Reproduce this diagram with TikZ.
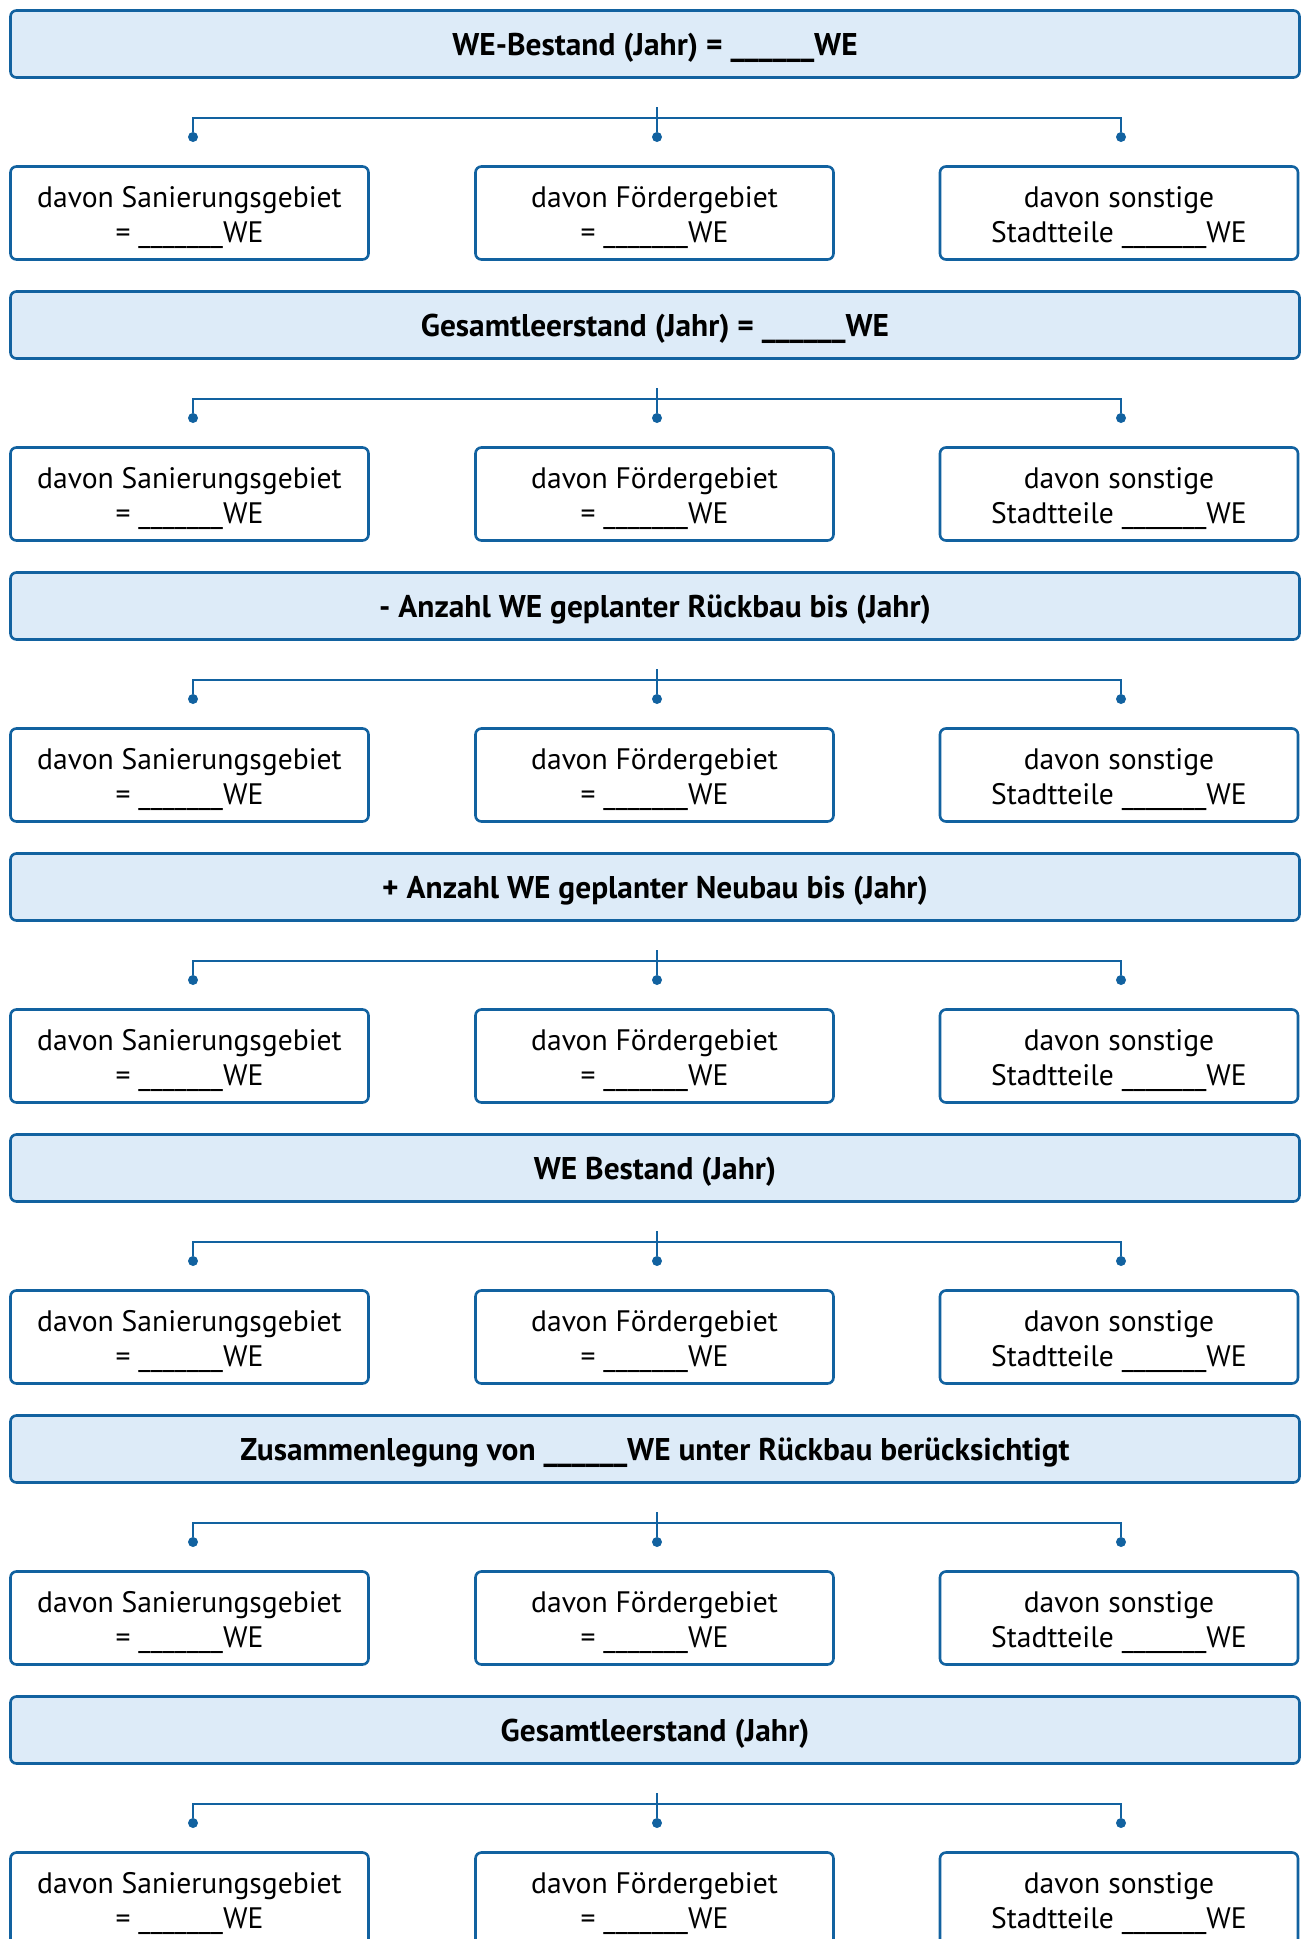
\documentclass[tikz,border=0pt]{standalone}
\usepackage{fontspec}
\setmainfont{PT Sans}
\usepackage{tikz}
\usepackage{xcolor}
\definecolor{weblue}{RGB}{18,98,160}
\definecolor{welight}{RGB}{221,235,248}
\newcommand{\zeilehoch}{\rule{0pt}{15pt}}

\begin{document}
\begin{tikzpicture}[x=0.5pt,y=0.5pt,yscale=-1,xscale=1,
  headbox/.style={draw=weblue,line width=1.3pt,fill=welight,rounded corners=3pt,minimum width=644.5pt,minimum height=33.5pt,inner sep=0pt,text height=11pt,text depth=0pt,font=\fontsize{15.7}{17.5}\selectfont\bfseries},
  partbox/.style={draw=weblue,line width=1.3pt,fill=white,rounded corners=3pt,minimum width=179pt,minimum height=46.5pt,inner sep=0pt,align=center,font=\fontsize{14.8}{17.5}\selectfont},
  conn/.style={draw=weblue,line width=1.1pt},
  knob/.style={circle,fill=weblue,inner sep=0pt,minimum size=5pt}]
\path[use as bounding box] (0,0) rectangle (1304,1939);
\clip (0,0) rectangle (1304,1939);

%Shape: Header 1
\node [headbox] (head1) at (655,44) {WE-Bestand (Jahr) = \_\_\_\_\_\_WE};
% Connector 1
\coordinate (tick1) at (657,107);
\coordinate (bar1) at (657,118);
\node [knob] (dotl1) at (193,137) {};
\node [knob] (dotm1) at (657,137) {};
\node [knob] (dotr1) at (1121,137) {};
\draw [conn] (dotl1) |- (bar1) -| (dotr1);
\draw [conn] (tick1) -- (dotm1);
% Text Node
\node [partbox] (san1) at (189.5,213) {\zeilehoch davon Sanierungsgebiet\\= \_\_\_\_\_\_\_WE};
\node [partbox] (foe1) at (654.5,213) {\zeilehoch davon Fördergebiet\\= \_\_\_\_\_\_\_WE};
\node [partbox] (son1) at (1119,213) {\zeilehoch davon sonstige\\Stadtteile \_\_\_\_\_\_\_WE};

%Shape: Header 2
\node [headbox] (head2) at (655,325) {Gesamtleerstand (Jahr) = \_\_\_\_\_\_WE};
% Connector 2
\coordinate (tick2) at (657,388);
\coordinate (bar2) at (657,399);
\node [knob] (dotl2) at (193,418) {};
\node [knob] (dotm2) at (657,418) {};
\node [knob] (dotr2) at (1121,418) {};
\draw [conn] (dotl2) |- (bar2) -| (dotr2);
\draw [conn] (tick2) -- (dotm2);
% Text Node
\node [partbox] (san2) at (189.5,494) {\zeilehoch davon Sanierungsgebiet\\= \_\_\_\_\_\_\_WE};
\node [partbox] (foe2) at (654.5,494) {\zeilehoch davon Fördergebiet\\= \_\_\_\_\_\_\_WE};
\node [partbox] (son2) at (1119,494) {\zeilehoch davon sonstige\\Stadtteile \_\_\_\_\_\_\_WE};

%Shape: Header 3
\node [headbox] (head3) at (655,606) {- Anzahl WE geplanter Rückbau bis (Jahr)};
% Connector 3
\coordinate (tick3) at (657,669);
\coordinate (bar3) at (657,680);
\node [knob] (dotl3) at (193,699) {};
\node [knob] (dotm3) at (657,699) {};
\node [knob] (dotr3) at (1121,699) {};
\draw [conn] (dotl3) |- (bar3) -| (dotr3);
\draw [conn] (tick3) -- (dotm3);
% Text Node
\node [partbox] (san3) at (189.5,775) {\zeilehoch davon Sanierungsgebiet\\= \_\_\_\_\_\_\_WE};
\node [partbox] (foe3) at (654.5,775) {\zeilehoch davon Fördergebiet\\= \_\_\_\_\_\_\_WE};
\node [partbox] (son3) at (1119,775) {\zeilehoch davon sonstige\\Stadtteile \_\_\_\_\_\_\_WE};

%Shape: Header 4
\node [headbox] (head4) at (655,887) {+ Anzahl WE geplanter Neubau bis (Jahr)};
% Connector 4
\coordinate (tick4) at (657,950);
\coordinate (bar4) at (657,961);
\node [knob] (dotl4) at (193,980) {};
\node [knob] (dotm4) at (657,980) {};
\node [knob] (dotr4) at (1121,980) {};
\draw [conn] (dotl4) |- (bar4) -| (dotr4);
\draw [conn] (tick4) -- (dotm4);
% Text Node
\node [partbox] (san4) at (189.5,1056) {\zeilehoch davon Sanierungsgebiet\\= \_\_\_\_\_\_\_WE};
\node [partbox] (foe4) at (654.5,1056) {\zeilehoch davon Fördergebiet\\= \_\_\_\_\_\_\_WE};
\node [partbox] (son4) at (1119,1056) {\zeilehoch davon sonstige\\Stadtteile \_\_\_\_\_\_\_WE};

%Shape: Header 5
\node [headbox] (head5) at (655,1168) {WE Bestand (Jahr)};
% Connector 5
\coordinate (tick5) at (657,1231);
\coordinate (bar5) at (657,1242);
\node [knob] (dotl5) at (193,1261) {};
\node [knob] (dotm5) at (657,1261) {};
\node [knob] (dotr5) at (1121,1261) {};
\draw [conn] (dotl5) |- (bar5) -| (dotr5);
\draw [conn] (tick5) -- (dotm5);
% Text Node
\node [partbox] (san5) at (189.5,1337) {\zeilehoch davon Sanierungsgebiet\\= \_\_\_\_\_\_\_WE};
\node [partbox] (foe5) at (654.5,1337) {\zeilehoch davon Fördergebiet\\= \_\_\_\_\_\_\_WE};
\node [partbox] (son5) at (1119,1337) {\zeilehoch davon sonstige\\Stadtteile \_\_\_\_\_\_\_WE};

%Shape: Header 6
\node [headbox] (head6) at (655,1449) {Zusammenlegung von \_\_\_\_\_\_WE unter Rückbau berücksichtigt};
% Connector 6
\coordinate (tick6) at (657,1512);
\coordinate (bar6) at (657,1523);
\node [knob] (dotl6) at (193,1542) {};
\node [knob] (dotm6) at (657,1542) {};
\node [knob] (dotr6) at (1121,1542) {};
\draw [conn] (dotl6) |- (bar6) -| (dotr6);
\draw [conn] (tick6) -- (dotm6);
% Text Node
\node [partbox] (san6) at (189.5,1618) {\zeilehoch davon Sanierungsgebiet\\= \_\_\_\_\_\_\_WE};
\node [partbox] (foe6) at (654.5,1618) {\zeilehoch davon Fördergebiet\\= \_\_\_\_\_\_\_WE};
\node [partbox] (son6) at (1119,1618) {\zeilehoch davon sonstige\\Stadtteile \_\_\_\_\_\_\_WE};

%Shape: Header 7
\node [headbox] (head7) at (655,1730) {Gesamtleerstand (Jahr)};
% Connector 7
\coordinate (tick7) at (657,1793);
\coordinate (bar7) at (657,1804);
\node [knob] (dotl7) at (193,1823) {};
\node [knob] (dotm7) at (657,1823) {};
\node [knob] (dotr7) at (1121,1823) {};
\draw [conn] (dotl7) |- (bar7) -| (dotr7);
\draw [conn] (tick7) -- (dotm7);
% Text Node
\node [partbox] (san7) at (189.5,1899) {\zeilehoch davon Sanierungsgebiet\\= \_\_\_\_\_\_\_WE};
\node [partbox] (foe7) at (654.5,1899) {\zeilehoch davon Fördergebiet\\= \_\_\_\_\_\_\_WE};
\node [partbox] (son7) at (1119,1899) {\zeilehoch davon sonstige\\Stadtteile \_\_\_\_\_\_\_WE};

\end{tikzpicture}
\end{document}
